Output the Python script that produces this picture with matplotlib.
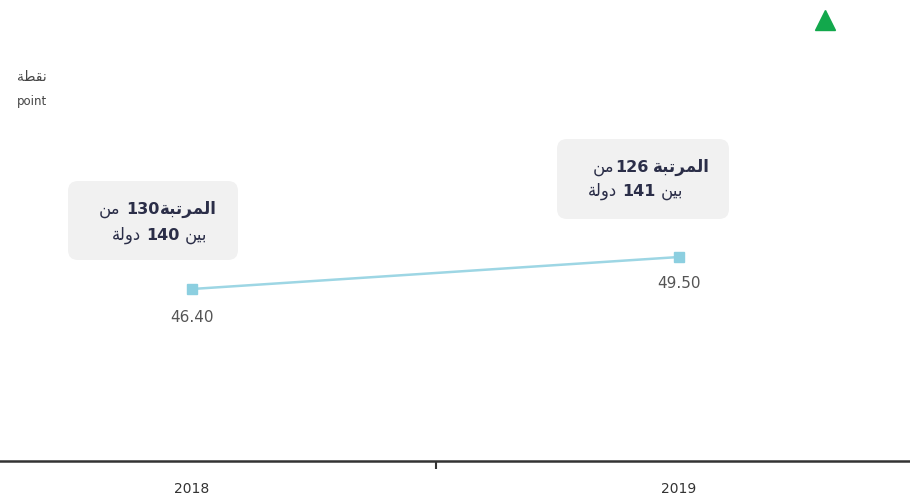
import matplotlib.pyplot as plt
from matplotlib.patches import FancyBboxPatch
from matplotlib.transforms import Affine2D

years = ['2018', '2019']
scores = [46.40, 49.50]
ranks = [130, 126]
totals = [140, 141]

# arabic letters -> (isolated, final, initial, medial) presentation forms
ar_forms = {
    'ا': ('\uFE8D', '\uFE8E', None, None),
    'ب': ('\uFE8F', '\uFE90', '\uFE91', '\uFE92'),
    'ة': ('\uFE93', '\uFE94', None, None),
    'ت': ('\uFE95', '\uFE96', '\uFE97', '\uFE98'),
    'د': ('\uFEA9', '\uFEAA', None, None),
    'ر': ('\uFEAD', '\uFEAE', None, None),
    'ط': ('\uFEC1', '\uFEC2', '\uFEC3', '\uFEC4'),
    'ق': ('\uFED5', '\uFED6', '\uFED7', '\uFED8'),
    'ل': ('\uFEDD', '\uFEDE', '\uFEDF', '\uFEE0'),
    'م': ('\uFEE1', '\uFEE2', '\uFEE3', '\uFEE4'),
    'ن': ('\uFEE5', '\uFEE6', '\uFEE7', '\uFEE8'),
    'و': ('\uFEED', '\uFEEE', None, None),
    'ي': ('\uFEF1', '\uFEF2', '\uFEF3', '\uFEF4'),
}


def shape(word):
    out = []
    n = len(word)
    for i, ch in enumerate(word):
        iso, fin, ini, med = ar_forms[ch]
        prev_joins = i > 0 and ar_forms[word[i - 1]][2] is not None
        next_joins = i < n - 1 and ini is not None
        if prev_joins and next_joins:
            out.append(med)
        elif prev_joins:
            out.append(fin)
        elif next_joins:
            out.append(ini)
        else:
            out.append(iso)
    return ''.join(reversed(out))


W, H = 910, 499
fig = plt.figure(figsize=(W / 100, H / 100), dpi=100)
ax = fig.add_axes([0, (H - 461) / H, 1, 461 / H])
pix = Affine2D().scale(1 / W, -1 / H).translate(0, 1) + fig.transFigure

line_col = '#9dd6e4'
txt_col = '#2b2e48'

ax.plot(range(len(years)), scores, color=line_col, lw=1.8, marker='s',
        markersize=6.5, markerfacecolor='#8ccfe0', markeredgecolor='#8ccfe0')

ax.set_xlim(-192 / 487, 1 + (W - 679) / 487)
ymin = scores[0] - (461 - 289) / 10.32
ax.set_ylim(ymin, ymin + 461 / 10.32)

for sp in ['top', 'left', 'right']:
    ax.spines[sp].set_visible(False)
ax.spines['bottom'].set_color('#333333')
ax.spines['bottom'].set_linewidth(1.8)
ax.set_yticks([])
ax.set_xticks(range(len(years)))
ax.set_xticklabels(years, fontsize=10, color='#333333')
ax.tick_params(axis='x', length=0, pad=15)
ax.set_xticks([0.5], minor=True)
ax.tick_params(axis='x', which='minor', length=6, width=1.5, color='#333333')

# value labels
offs = [29, 26]
for i, v in enumerate(scores):
    ax.annotate(f'{v:.2f}', (i, v), xytext=(0, -offs[i]), textcoords='offset pixels',
                ha='center', va='center', fontsize=11, color='#555555')


def put_line(segs, xr, yb):
    prev = None
    for s, bold, size, gap in segs:
        w = 'bold' if bold else 'normal'
        if prev is None:
            prev = ax.annotate(s, (xr, yb), xycoords=pix, ha='right', va='baseline',
                               fontsize=size, fontweight=w, color=txt_col, zorder=5)
        else:
            prev = ax.annotate(s, (0, yb), xycoords=(prev, pix), xytext=(-gap, 0),
                               textcoords='offset pixels', ha='right', va='baseline',
                               fontsize=size, fontweight=w, color=txt_col, zorder=5)


boxes = [(68, 181, 170, 79, 217, 207, 214, 240, 1, 5),
         (557, 139, 172, 80, 710, 683, 172, 196, 5, 1)]
for i, (bx, by, bw, bh, xr1, xr2, yb1, yb2, g1, g2) in enumerate(boxes):
    ax.add_patch(FancyBboxPatch((bx, by), bw, bh,
                                boxstyle='round,pad=0,rounding_size=10',
                                transform=pix, facecolor='#f1f1f1',
                                edgecolor='none', zorder=0, clip_on=False))
    put_line([(shape('المرتبة'), True, 12, 0),
              (str(ranks[i]), True, 11.5, g1),
              (shape('من'), False, 12, g2)], xr1, yb1)
    put_line([(shape('بين'), False, 12, 0),
              (str(totals[i]), True, 11.5, 5),
              (shape('دولة'), False, 12, 5)], xr2, yb2)

# unit label
fig.text(32 / W, 1 - 77 / H, shape('نقطة'), ha='center', va='center', fontsize=10, color='#444444')
fig.text(32 / W, 1 - 102 / H, 'point', ha='center', va='center', fontsize=8.5, color='#444444')

# trend marker
ax.plot([825], [20], marker='^', markersize=14, color='#12a84c', transform=pix, clip_on=False)

fig.savefig('out.png', dpi=100)
